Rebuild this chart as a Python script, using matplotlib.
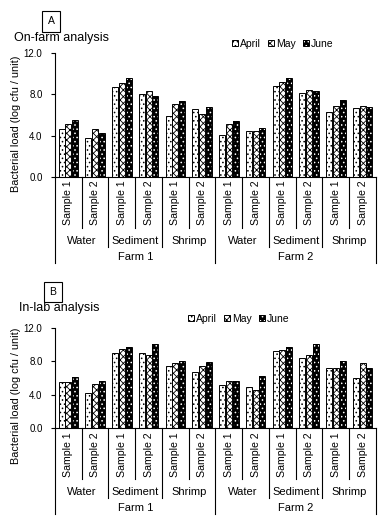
import matplotlib
matplotlib.use("Agg")
import matplotlib.pyplot as plt
import matplotlib.transforms as mtransforms
from matplotlib.patches import Patch
import numpy as np

plt.rcParams['font.family'] = ['Liberation Sans', 'DejaVu Sans']
plt.rcParams['hatch.linewidth'] = 0.6

# ---------------- data ----------------
farms = ["Farm 1", "Farm 2"]
groups = ["Water", "Sediment", "Shrimp"]
samples = ["Sample 1", "Sample 2"]
months = ["April", "May", "June"]

# Panel A: On-farm analysis (12 categories: Farm1 W S1,S2, Sed S1,S2, Shr S1,S2, Farm2 ...)
onfarm_april = [4.6, 3.75, 8.75, 8.0, 5.95, 6.55, 4.05, 4.5, 8.85, 8.1, 6.25, 6.65]
onfarm_may   = [5.1, 4.6, 9.05, 8.3, 7.1, 6.05, 5.1, 4.45, 9.15, 8.45, 6.9, 6.85]
onfarm_june  = [5.5, 4.3, 9.6, 7.8, 7.35, 6.75, 5.4, 4.7, 9.6, 8.35, 7.5, 6.75]

# Panel B: In-lab analysis
inlab_april = [5.5, 4.2, 8.95, 8.95, 7.4, 6.7, 5.15, 4.9, 9.2, 8.35, 7.15, 5.95]
inlab_may   = [5.5, 5.25, 9.4, 8.8, 7.75, 7.4, 5.7, 4.55, 9.3, 8.8, 7.25, 7.75]
inlab_june  = [6.1, 5.7, 9.75, 10.0, 8.0, 7.85, 5.7, 6.2, 9.75, 10.0, 8.0, 7.15]

yticks = [0, 4, 8, 12]
ytick_labels = ["0.0", "4.0", "8.0", "12.0"]

# ---------------- figure ----------------
W, H = 390, 523
fig = plt.figure(figsize=(W / 100, H / 100), dpi=100)


def fx(px):
    return px / W


def fy(py):
    return 1 - py / H


def draw_panel(top, bottom, april, may, june, letter, letter_xy, title, title_xy,
               ylabel_y, legend_xy):
    left, right = 55, 376
    ax = fig.add_axes([fx(left), fy(bottom), fx(right - left), (bottom - top) / H])
    hpx = bottom - top
    n = len(april)
    x = np.arange(n)
    bw = 0.225
    off = 0.25
    # April: white with dots
    ax.bar(x - off, april, bw, facecolor='white', edgecolor='black', hatch='....',
           linewidth=0.7)
    # May: checkered
    ax.bar(x, may, bw, facecolor='white', edgecolor='black', hatch='xxxxx',
           linewidth=0.7)
    # June: black with white dots
    ax.bar(x + off, june, bw, facecolor='black', edgecolor='white', hatch='....',
           linewidth=0)
    ax.bar(x + off, june, bw, fill=False, edgecolor='black', linewidth=0.7)

    ax.set_xlim(-0.5, n - 0.5)
    ax.set_ylim(0, 12)
    ax.set_yticks(yticks)
    ax.set_yticklabels(ytick_labels)
    ax.set_xticks([])
    for s in ['top', 'right', 'bottom']:
        ax.spines[s].set_visible(False)
    ax.spines['left'].set_linewidth(0.8)
    ax.tick_params(axis='y', direction='out', length=3, width=0.8, labelsize=7,
                   pad=6)

    trans = mtransforms.blended_transform_factory(ax.transData, ax.transAxes)
    lw = 0.8
    # baseline
    ax.plot([-0.5, n - 0.5], [0, 0], transform=trans, color='black', lw=lw,
            clip_on=False)
    # separators
    for b in [0.5, 2.5, 4.5, 6.5, 8.5, 10.5]:
        ax.plot([b, b], [0, -51 / hpx], transform=trans, color='black', lw=lw,
                clip_on=False)
    for b in [1.5, 3.5, 7.5, 9.5]:
        ax.plot([b, b], [0, -70 / hpx], transform=trans, color='black', lw=lw,
                clip_on=False)
    for b in [-0.5, 5.5, 11.5]:
        ax.plot([b, b], [0, -86 / hpx], transform=trans, color='black', lw=lw,
                clip_on=False)
    # labels
    k = 0
    for fi, farm in enumerate(farms):
        for gi, grp in enumerate(groups):
            for si, smp in enumerate(samples):
                ax.text(k, -26 / hpx, smp, rotation=90, ha='center', va='center',
                        fontsize=7.6, transform=trans)
                k += 1
            ax.text(fi * 6 + gi * 2 + 0.5, -64 / hpx, grp, ha='center',
                    va='center', fontsize=8, transform=trans)
        ax.text(fi * 6 + 2.5, -80 / hpx, farm, ha='center', va='center',
                fontsize=8, transform=trans)

    # y label
    fig.text(fx(16), fy(ylabel_y), "Bacterial load (log cfu / unit)",
             rotation=90, ha='center', va='center', fontsize=7.8)
    # letter box
    fig.text(fx(letter_xy[0]), fy(letter_xy[1]), letter, ha='center', va='center',
             fontsize=7.5,
             bbox=dict(boxstyle='square,pad=0.5', facecolor='white',
                       edgecolor='black', linewidth=0.8))
    # title
    fig.text(fx(title_xy[0]), fy(title_xy[1]), title, ha='left', va='center',
             fontsize=9)
    # legend
    h_apr = Patch(facecolor='white', edgecolor='black', hatch='....', linewidth=0.7)
    h_may = Patch(facecolor='white', edgecolor='black', hatch='xxxxx', linewidth=0.7)
    h_jun = (Patch(facecolor='black', edgecolor='white', hatch='....', linewidth=0),
             Patch(fill=False, edgecolor='black', linewidth=0.7))
    fig.legend([h_apr, h_may, h_jun], months, loc='center left',
               bbox_to_anchor=(fx(legend_xy[0]), fy(legend_xy[1])), ncol=3,
               frameon=False, fontsize=7.5, handlelength=0.55, handleheight=0.55,
               handletextpad=0.2, columnspacing=0.7, borderpad=0,
               borderaxespad=0)
    return ax


draw_panel(53, 177, onfarm_april, onfarm_may, onfarm_june, "A", (51, 21.5),
           "On-farm analysis", (14, 37.5), 124, (232, 44))
draw_panel(327.7, 428.3, inlab_april, inlab_may, inlab_june, "B", (53, 292),
           "In-lab analysis", (19, 308), 396, (188, 319))

fig.savefig("out.png", dpi=100)
